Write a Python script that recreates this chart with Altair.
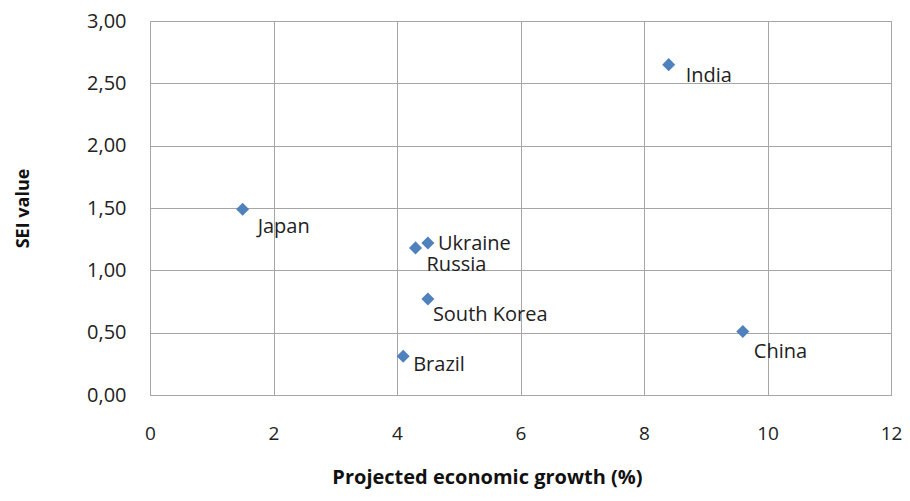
import altair as alt
import pandas as pd

countries = ["India", "Japan", "Ukraine", "Russia", "South Korea", "Brazil", "China"]
growth = [8.4, 1.5, 4.5, 4.3, 4.5, 4.1, 9.6]
sei = [2.65, 1.49, 1.22, 1.18, 0.77, 0.31, 0.51]

df = pd.DataFrame({"country": countries, "growth": growth, "sei": sei})

# label offsets (style, in pixels)
label_offsets = {
    "India": (17, 11),
    "Japan": (15, 18),
    "Ukraine": (10, 1),
    "Russia": (11, 17),
    "South Korea": (5, 16),
    "Brazil": (10, 9),
    "China": (11, 21),
}

FONT = "Open Sans"
x_scale = alt.Scale(domain=[0, 12], nice=False, zero=False)
y_scale = alt.Scale(domain=[0, 3], nice=False)

x_enc = alt.X(
    "growth:Q",
    scale=x_scale,
    axis=alt.Axis(
        title="Projected economic growth (%)",
        values=[0, 2, 4, 6, 8, 10, 12],
        format="d",
        labelFontSize=19,
        labelPadding=29,
        titleFontSize=20,
        titleFontWeight="bold",
        titlePadding=24,
        titleX=337,
        ticks=False,
        domain=False,
        labelFlush=False,
    ),
)
y_enc = alt.Y(
    "sei:Q",
    scale=y_scale,
    axis=alt.Axis(
        title="SEI value",
        values=[0, 0.5, 1, 1.5, 2, 2.5, 3],
        labelExpr="replace(format(datum.value, '.2f'), '.', ',')",
        labelFontSize=20,
        labelPadding=24,
        titleFontSize=18,
        titleFontWeight="bold",
        titlePadding=54,
        ticks=False,
        domain=False,
    ),
)

points = alt.Chart(df).mark_point(
    shape="diamond", filled=True, size=170, color="#4F81BD", opacity=1
).encode(x=x_enc, y=y_enc)

layers = [points]
for c in countries:
    dx, dy = label_offsets[c]
    t = alt.Chart(df).transform_filter(alt.datum.country == c).mark_text(
        align="left", baseline="middle", dx=dx, dy=dy,
        fontSize=20, font=FONT, color="#222222"
    ).encode(
        x=alt.X("growth:Q", scale=x_scale),
        y=alt.Y("sei:Q", scale=y_scale),
        text="country:N",
    )
    layers.append(t)

chart = alt.layer(*layers).properties(
    width=741, height=374,
    autosize=alt.AutoSizeParams(type="none"),
    padding={"left": 142, "top": 13, "right": 11, "bottom": 98},
).configure_axis(
    gridColor="#A6A6A6",
    gridWidth=1,
    labelFont=FONT,
    titleFont=FONT,
    labelColor="#222222",
    titleColor="#111111",
).configure_view(
    stroke="#A6A6A6", strokeWidth=1
)

chart.save("out.html", embed_options={"renderer": "svg", "actions": False})
